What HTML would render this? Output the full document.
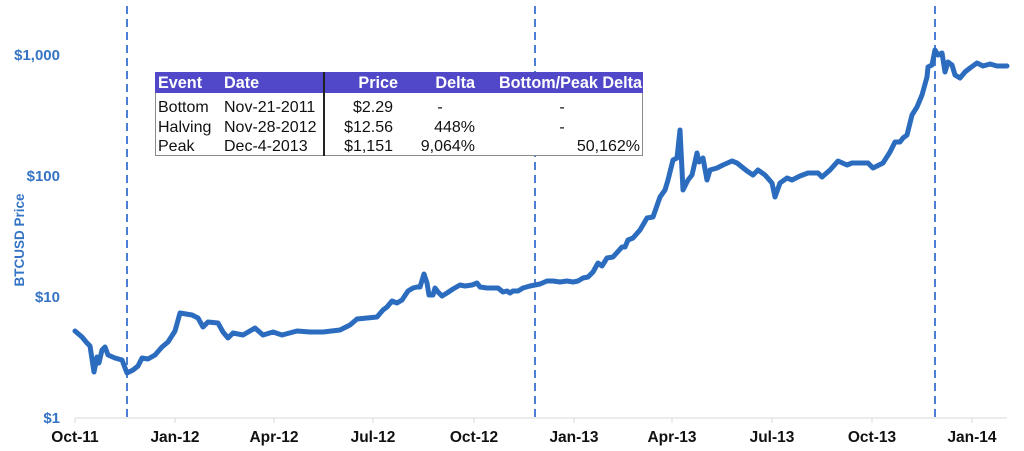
<!DOCTYPE html>
<html>
<head>
<meta charset="utf-8">
<style>
  html, body { margin: 0; padding: 0; background: #ffffff; }
  body { width: 1024px; height: 451px; overflow: hidden; }
  svg { display: block; }
  text { font-family: "Liberation Sans", Arial, sans-serif; }
</style>
</head>
<body>
<svg width="1024" height="451" viewBox="0 0 1024 451" xmlns="http://www.w3.org/2000/svg">
  <rect x="0" y="0" width="1024" height="451" fill="#ffffff"/>

  <!-- x axis -->
  <line x1="75" y1="418" x2="1007" y2="418" stroke="#d9d9d9" stroke-width="1"/>
  <g stroke="#d9d9d9" stroke-width="1">
    <line x1="75" y1="418" x2="75" y2="423"/>
    <line x1="175" y1="418" x2="175" y2="423"/>
    <line x1="274" y1="418" x2="274" y2="423"/>
    <line x1="373" y1="418" x2="373" y2="423"/>
    <line x1="474" y1="418" x2="474" y2="423"/>
    <line x1="574" y1="418" x2="574" y2="423"/>
    <line x1="672" y1="418" x2="672" y2="423"/>
    <line x1="772" y1="418" x2="772" y2="423"/>
    <line x1="872" y1="418" x2="872" y2="423"/>
    <line x1="972" y1="418" x2="972" y2="423"/>
  </g>

  <!-- x labels -->
  <g font-size="15.5" font-weight="bold" fill="#111" text-anchor="middle">
    <text x="75" y="442">Oct-11</text>
    <text x="175" y="442">Jan-12</text>
    <text x="274" y="442">Apr-12</text>
    <text x="373" y="442">Jul-12</text>
    <text x="474" y="442">Oct-12</text>
    <text x="574" y="442">Jan-13</text>
    <text x="672" y="442">Apr-13</text>
    <text x="772" y="442">Jul-13</text>
    <text x="872" y="442">Oct-13</text>
    <text x="972" y="442">Jan-14</text>
  </g>

  <!-- y labels -->
  <g font-size="15" font-weight="bold" fill="#3574c4" text-anchor="end">
    <text x="60" y="60">$1,000</text>
    <text x="60" y="181">$100</text>
    <text x="60" y="302">$10</text>
    <text x="60" y="423">$1</text>
  </g>
  <text x="0" y="0" transform="translate(24,240) rotate(-90)" font-size="13.5" font-weight="bold" fill="#3574c4" text-anchor="middle">BTCUSD Price</text>

  <!-- dashed event lines -->
  <g stroke="#4a7fd3" stroke-width="2" stroke-dasharray="8,5">
    <line x1="127" y1="6" x2="127" y2="418"/>
    <line x1="535" y1="6" x2="535" y2="418"/>
    <line x1="935" y1="6" x2="935" y2="418"/>
  </g>

  <!-- price line -->
  <polyline fill="none" stroke="#2b6cbf" stroke-width="5" stroke-linejoin="round" stroke-linecap="round"
    points="75,331 82,337 87,343 90,346 94,372 97,357 99,363 102,350 105,347 108,355 115,358 122,360 127,373 133,370 138,366 142,358 148,359 155,355 162,347 168,342 175,331 180,313 192,315 198,318 203,327 208,322 218,323 223,332 228,338 233,333 243,335 255,328 263,335 273,332 282,335 297,331 310,332 323,332 340,330 350,325 357,319 367,318 377,317 383,310 387,307 392,301 397,303 402,300 408,291 413,288 417,287 420,287 424,274 427,283 429,295 433,295 435,288 438,292 442,296 447,293 453,289 460,285 465,286 472,285 477,283 480,287 487,288 493,288 498,288 503,292 507,291 510,293 513,291 518,291 523,288 530,286 535,285 540,284 547,281 553,281 560,282 567,281 573,282 578,281 583,278 588,277 593,272 598,263 602,266 607,258 613,257 622,247 625,247 628,240 633,238 640,230 647,218 653,217 660,197 665,190 668,180 673,160 677,158 680,130 683,190 688,180 692,175 697,153 699,162 703,158 707,180 710,170 717,168 723,165 732,161 737,163 742,167 747,171 753,175 758,170 765,175 772,183 775,197 780,183 787,178 792,180 800,176 808,173 818,173 822,177 830,170 838,161 847,165 852,163 860,163 868,163 873,168 883,163 890,152 895,142 900,142 903,138 907,135 912,115 917,107 922,95 927,77 928,67 932,65 935,50 938,55 942,53 945,72 948,62 952,65 955,75 960,78 965,72 970,68 977,63 983,66 990,64 997,66 1007,66"/>

  <!-- table -->
  <rect x="155.5" y="72.5" width="487" height="83" fill="#ffffff" stroke="#8a8a8a" stroke-width="1"/>
  <rect x="155" y="72" width="488" height="21" fill="#5048c8"/>
  <line x1="324" y1="72" x2="324" y2="156" stroke="#222" stroke-width="2"/>

  <g font-size="16.2" font-weight="bold" fill="#ffffff">
    <text x="158" y="88">Event</text>
    <text x="224" y="88">Date</text>
    <text x="398" y="88" text-anchor="end">Price</text>
    <text x="475" y="88" text-anchor="end">Delta</text>
    <text x="642" y="88" text-anchor="end">Bottom/Peak Delta</text>
  </g>

  <g font-size="16" fill="#111">
    <text x="158" y="112">Bottom</text>
    <text x="224" y="112">Nov-21-2011</text>
    <text x="393" y="112" text-anchor="end">$2.29</text>
    <text x="440" y="112" text-anchor="middle">-</text>
    <text x="562" y="112" text-anchor="middle">-</text>

    <text x="158" y="132">Halving</text>
    <text x="224" y="132">Nov-28-2012</text>
    <text x="393" y="132" text-anchor="end">$12.56</text>
    <text x="475" y="132" text-anchor="end">448%</text>
    <text x="562" y="132" text-anchor="middle">-</text>

    <text x="158" y="151">Peak</text>
    <text x="224" y="151">Dec-4-2013</text>
    <text x="393" y="151" text-anchor="end">$1,151</text>
    <text x="475" y="151" text-anchor="end">9,064%</text>
    <text x="640" y="151" text-anchor="end">50,162%</text>
  </g>
</svg>
</body>
</html>
